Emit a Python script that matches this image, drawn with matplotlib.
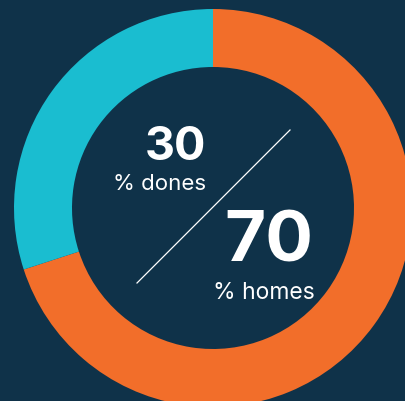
import matplotlib
matplotlib.use("Agg")
import matplotlib.pyplot as plt

labels = ["% homes", "% dones"]
values = [70, 30]
colors = ["#F26E2A", "#1ABDD0"]
bg = "#0F3249"

W, H = 405, 402
fig = plt.figure(figsize=(W / 100, H / 100), dpi=100, facecolor=bg)
ax = fig.add_axes([0, 0, 1, 1])
ax.set_facecolor(bg)

cx, cy = 213, H - 209
R, r = 199, 141
ax.pie(values, colors=colors, startangle=90, counterclock=False,
       center=(cx, cy), radius=R,
       wedgeprops=dict(width=R - r, edgecolor="none", linewidth=0))
ax.set_xlim(0, W)
ax.set_ylim(0, H)
ax.set_aspect("equal")
ax.axis("off")

fam = ["Inter", "DejaVu Sans"]
ax.text(175, H - 148, str(values[1]), color="white", fontsize=33.5, fontweight="bold",
        ha="center", va="center", family=fam)
ax.text(160, H - 184, labels[1], color="white", fontsize=16,
        ha="center", va="center", family=fam)
ax.text(269, H - 243, str(values[0]), color="white", fontsize=51, fontweight="bold",
        ha="center", va="center", family=fam)
ax.text(264, H - 293, labels[0], color="white", fontsize=16.5,
        ha="center", va="center", family=fam)
ax.plot([137, 290], [H - 284, H - 131], color="white", linewidth=0.9)

fig.savefig("out.png", dpi=100, facecolor=bg)
